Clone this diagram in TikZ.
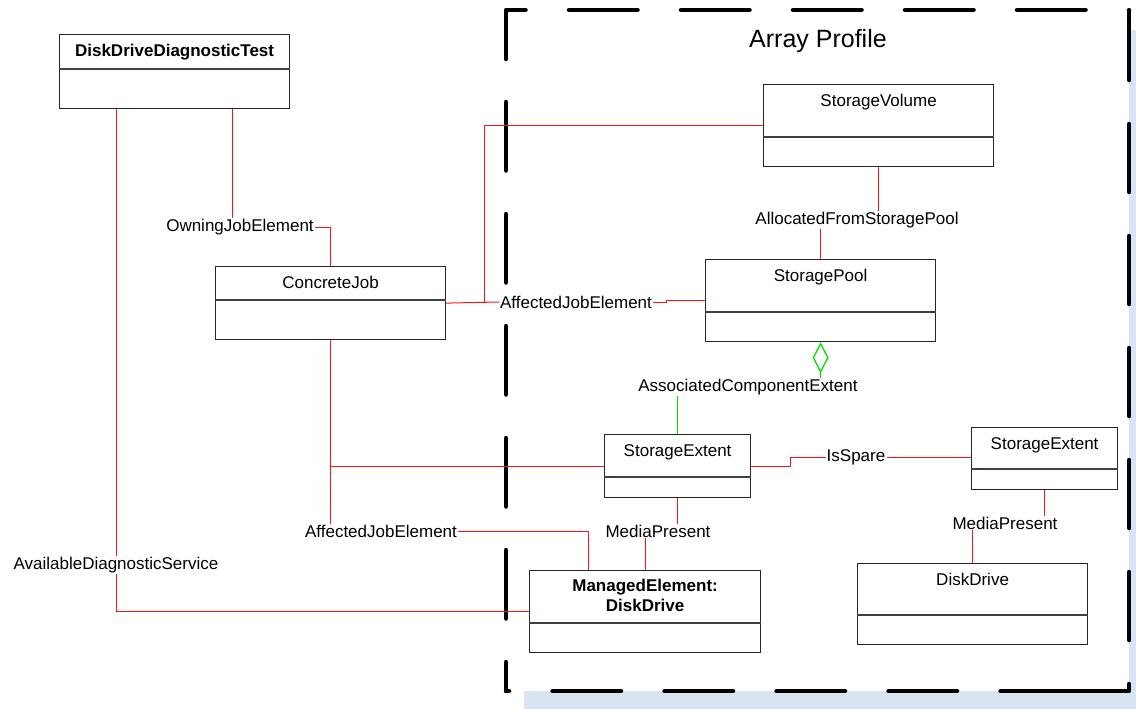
\documentclass[tikz,border=0pt]{standalone}
\usepackage{fontspec}
\setmainfont{Liberation Sans}
\usetikzlibrary{arrows.meta,positioning}
\definecolor{shadowBlue}{RGB}{218,227,242}
\definecolor{assocRed}{RGB}{255,20,20}
\definecolor{aggrGreen}{RGB}{0,225,0}
\tikzset{
  classBox/.style={draw=black!85, line width=1.2pt, anchor=north west, inner sep=0pt},
  classLine/.style={draw=black!75, line width=1.2pt},
  classTitle/.style={inner sep=0pt, align=center},
  assocLabel/.style={inner sep=1pt},
  assocLine/.style={draw=assocRed, line width=1pt},
  aggrLine/.style={draw=aggrGreen, line width=1.3pt},
  frameDash/.style={draw=black, line width=4.5pt, line cap=round, line join=round},
  profileFrame/.style={frameDash, dash pattern=on 68.5pt off 43.5pt}
}

\begin{document}
\begin{tikzpicture}[x=1pt, y=-1pt, font=\fontsize{17}{20}\selectfont]
  \useasboundingbox (0,0) rectangle (1136,709);

  % array profile frame
  \fill[shadowBlue] (524,30) rectangle (1136,709);
  \fill[white] (506,10) rectangle (1129,691);
  \draw[profileFrame] (506,59) -- (506,10) -- (1129,10);
  \draw[profileFrame] (506,102) -- (506,691);
  \draw[profileFrame] (1069,691) -- (506,691);
  \node[font=\fontsize{25}{30}\selectfont] (profile) at (818,41) {Array Profile};

  % classes
  \node[classBox, minimum width=230pt, minimum height=74pt] (test) at (59,34) {};
  \node[classTitle, font=\fontsize{17}{20}\selectfont\bfseries, below=10pt of test.north] (testTitle) {DiskDriveDiagnosticTest};
  \draw[classLine] ([yshift=-35pt]test.north west) -- ([yshift=-35pt]test.north east);

  \node[classBox, minimum width=230pt, minimum height=73pt] (job) at (215,266) {};
  \node[classTitle, below=10pt of job.north] (jobTitle) {ConcreteJob};
  \draw[classLine] ([yshift=-34pt]job.north west) -- ([yshift=-34pt]job.north east);

  \node[classBox, minimum width=230pt, minimum height=82pt] (vol) at (763,84) {};
  \node[classTitle, below=10pt of vol.north] (volTitle) {StorageVolume};
  \draw[classLine] ([yshift=-53pt]vol.north west) -- ([yshift=-53pt]vol.north east);

  \node[classBox, minimum width=230pt, minimum height=82pt] (pool) at (705,259) {};
  \node[classTitle, below=10pt of pool.north] (poolTitle) {StoragePool};
  \draw[classLine] ([yshift=-53pt]pool.north west) -- ([yshift=-53pt]pool.north east);

  \node[classBox, minimum width=146pt, minimum height=63pt] (ext) at (604,434) {};
  \node[classTitle, below=10pt of ext.north] (extTitle) {StorageExtent};
  \draw[classLine] ([yshift=-43pt]ext.north west) -- ([yshift=-43pt]ext.north east);

  \node[classBox, minimum width=146pt, minimum height=62pt] (spare) at (971,427) {};
  \node[classTitle, below=10pt of spare.north] (spareTitle) {StorageExtent};
  \draw[classLine] ([yshift=-42pt]spare.north west) -- ([yshift=-42pt]spare.north east);

  \node[classBox, minimum width=231pt, minimum height=82pt] (drive) at (529,570) {};
  \node[classTitle, font=\fontsize{17}{20}\selectfont\bfseries, below=9pt of drive.north] (driveTitle) {ManagedElement:\\DiskDrive};
  \draw[classLine] ([yshift=-53pt]drive.north west) -- ([yshift=-53pt]drive.north east);

  \node[classBox, minimum width=230pt, minimum height=81pt] (disk) at (857,563) {};
  \node[classTitle, below=10pt of disk.north] (diskTitle) {DiskDrive};
  \draw[classLine] ([yshift=-52pt]disk.north west) -- ([yshift=-52pt]disk.north east);

  % association labels
  \node[assocLabel] (lblAvail) at (116,565) {AvailableDiagnosticService};
  \node[assocLabel] (lblOwning) at (240,227) {OwningJobElement};
  \node[assocLabel] (lblAffected1) at (576,302) {AffectedJobElement};
  \node[assocLabel] (lblAllocated) at (857,220) {AllocatedFromStoragePool};
  \node[assocLabel] (lblAssoc) at (748,387) {AssociatedComponentExtent};
  \node[assocLabel] (lblAffected2) at (381,531) {AffectedJobElement};
  \node[assocLabel] (lblMedia1) at (658,531) {MediaPresent};
  \node[assocLabel] (lblSpare) at (856,457) {IsSpare};
  \node[assocLabel] (lblMedia2) at (1005,523) {MediaPresent};

  % associations
  \draw[assocLine] (lblAvail.north |- test.south) -- (lblAvail.north);
  \draw[assocLine] (lblAvail.south) |- (drive.west);

  \draw[assocLine] ([xshift=-8pt]lblOwning.north |- test.south) -- ([xshift=-8pt]lblOwning.north);
  \draw[assocLine] (lblOwning.east) -| (job.north);

  \draw[assocLine] (job.east) -- (lblAffected1.west);
  \draw[assocLine] ([xshift=38pt]job.east) |- (vol.west);
  \draw[assocLine] (lblAffected1.east) -- ++(13,0) |- (pool.west);

  \draw[assocLine] (vol.south) -- (vol.south |- lblAllocated.north);
  \draw[assocLine] (lblAllocated.south -| pool.north) -- (pool.north);

  \draw[aggrLine, {Diamond[open, length=31pt, width=16pt]}-] (pool.south) -- (pool.south |- lblAssoc.north);
  \draw[aggrLine] (lblAssoc.south -| ext.north) -- (ext.north);

  \draw[assocLine] (job.south) |- (ext.west);
  \draw[assocLine] (job.south) -- (job.south |- lblAffected2.north);
  \draw[assocLine] (lblAffected2.east) -| ([xshift=-57pt]drive.north);

  \draw[assocLine] (ext.south) -- (ext.south |- lblMedia1.north);
  \draw[assocLine] (lblMedia1.south -| drive.north) -- (drive.north);

  \draw[assocLine] (ext.east) -- ++(39,0) |- (lblSpare.west);
  \draw[assocLine] (lblSpare.east) -- (lblSpare.east -| spare.west);

  \draw[assocLine] (spare.south) -- (spare.south |- lblMedia2.north);
  \draw[assocLine] (lblMedia2.south -| disk.north) -- (disk.north);

  % right side of the frame
  \foreach \y in {12,124,236,348,460,572}
    \draw[frameDash] (1129,\y) -- (1129,\y+68);
  \draw[frameDash] (1129,684) -- (1129,691) -- (1069,691);
\end{tikzpicture}
\end{document}
